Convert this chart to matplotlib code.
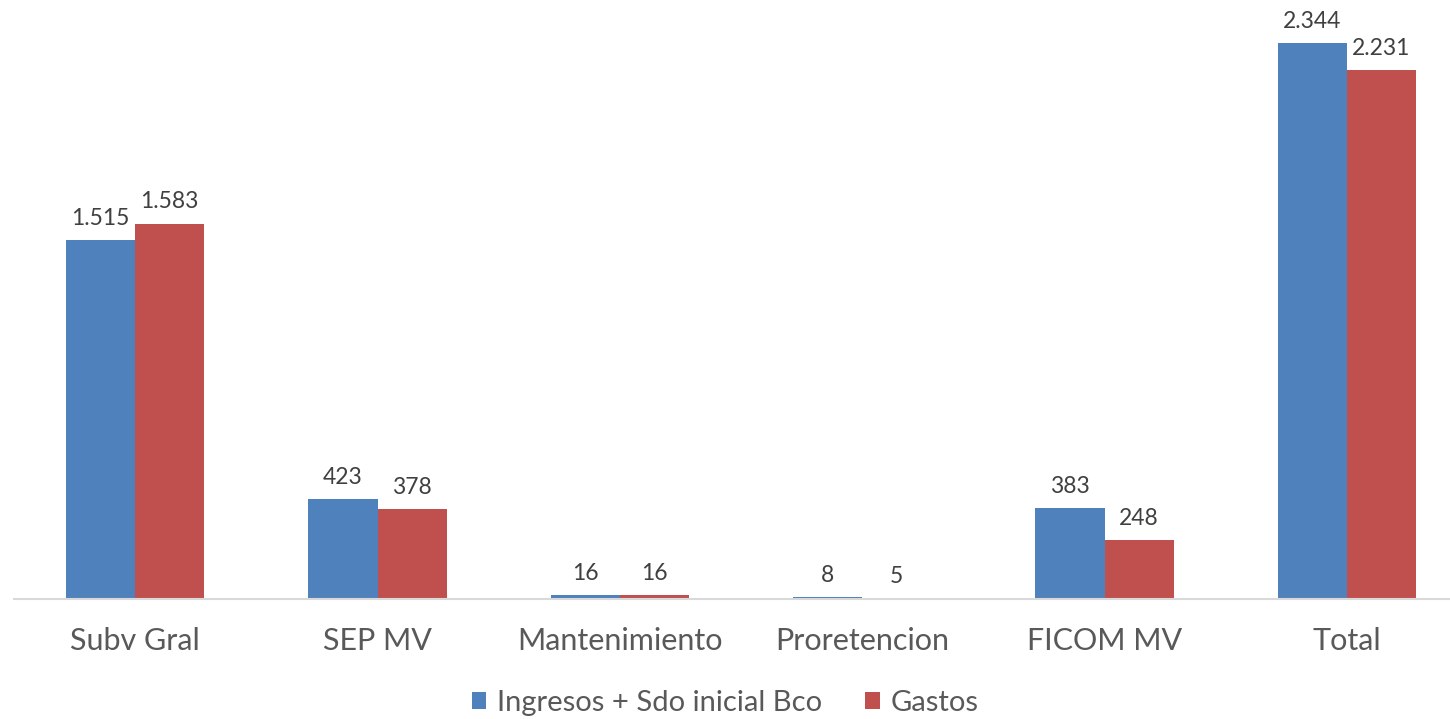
import matplotlib.pyplot as plt
import numpy as np

categories = ['Subv Gral', 'SEP MV', 'Mantenimiento', 'Proretencion', 'FICOM MV', 'Total']
ingresos = [1515, 423, 16, 8, 383, 2344]
gastos = [1583, 378, 16, 5, 248, 2231]
series_names = ['Ingresos + Sdo inicial Bco', 'Gastos']

plt.rcParams['font.family'] = ['Lato', 'DejaVu Sans']

fig = plt.figure(figsize=(14.5, 7.19), dpi=100)
ax = fig.add_axes([14/1450, 120/719, 1454/1450, 593/719])

x = np.arange(len(categories))
w = 0.285
b1 = ax.bar(x - w/2, ingresos, w, color='#4F81BD', label=series_names[0])
b2 = ax.bar(x + w/2, gastos, w, color='#C0504D', label=series_names[1])

def fmt(v):
    return f'{v:,}'.replace(',', '.')

for bars, vals in ((b1, ingresos), (b2, gastos)):
    for r, v in zip(bars, vals):
        ax.annotate(fmt(v), (r.get_x() + r.get_width()/2, r.get_height()),
                    xytext=(0, 8), textcoords='offset points',
                    ha='center', va='bottom', fontsize=16.5, color='#404040')

ax.set_xlim(-0.5, len(categories) - 0.5)
ax.set_ylim(0, 2500)
ax.set_yticks([])
ax.set_xticks(x)
ax.set_xticklabels(categories, fontsize=22, color='#595959')
ax.tick_params(axis='x', length=0, pad=20)
for s in ['top', 'right', 'left']:
    ax.spines[s].set_visible(False)
ax.spines['bottom'].set_color('#D9D9D9')
ax.spines['bottom'].set_linewidth(1.5)

fig.legend(loc='center', bbox_to_anchor=(0.5, 16/719), ncol=2, frameon=False,
           fontsize=21, labelcolor='#595959', handlelength=0.5, handleheight=0.5,
           handletextpad=0.35, columnspacing=1.5)

fig.savefig('out.png', dpi=100)
